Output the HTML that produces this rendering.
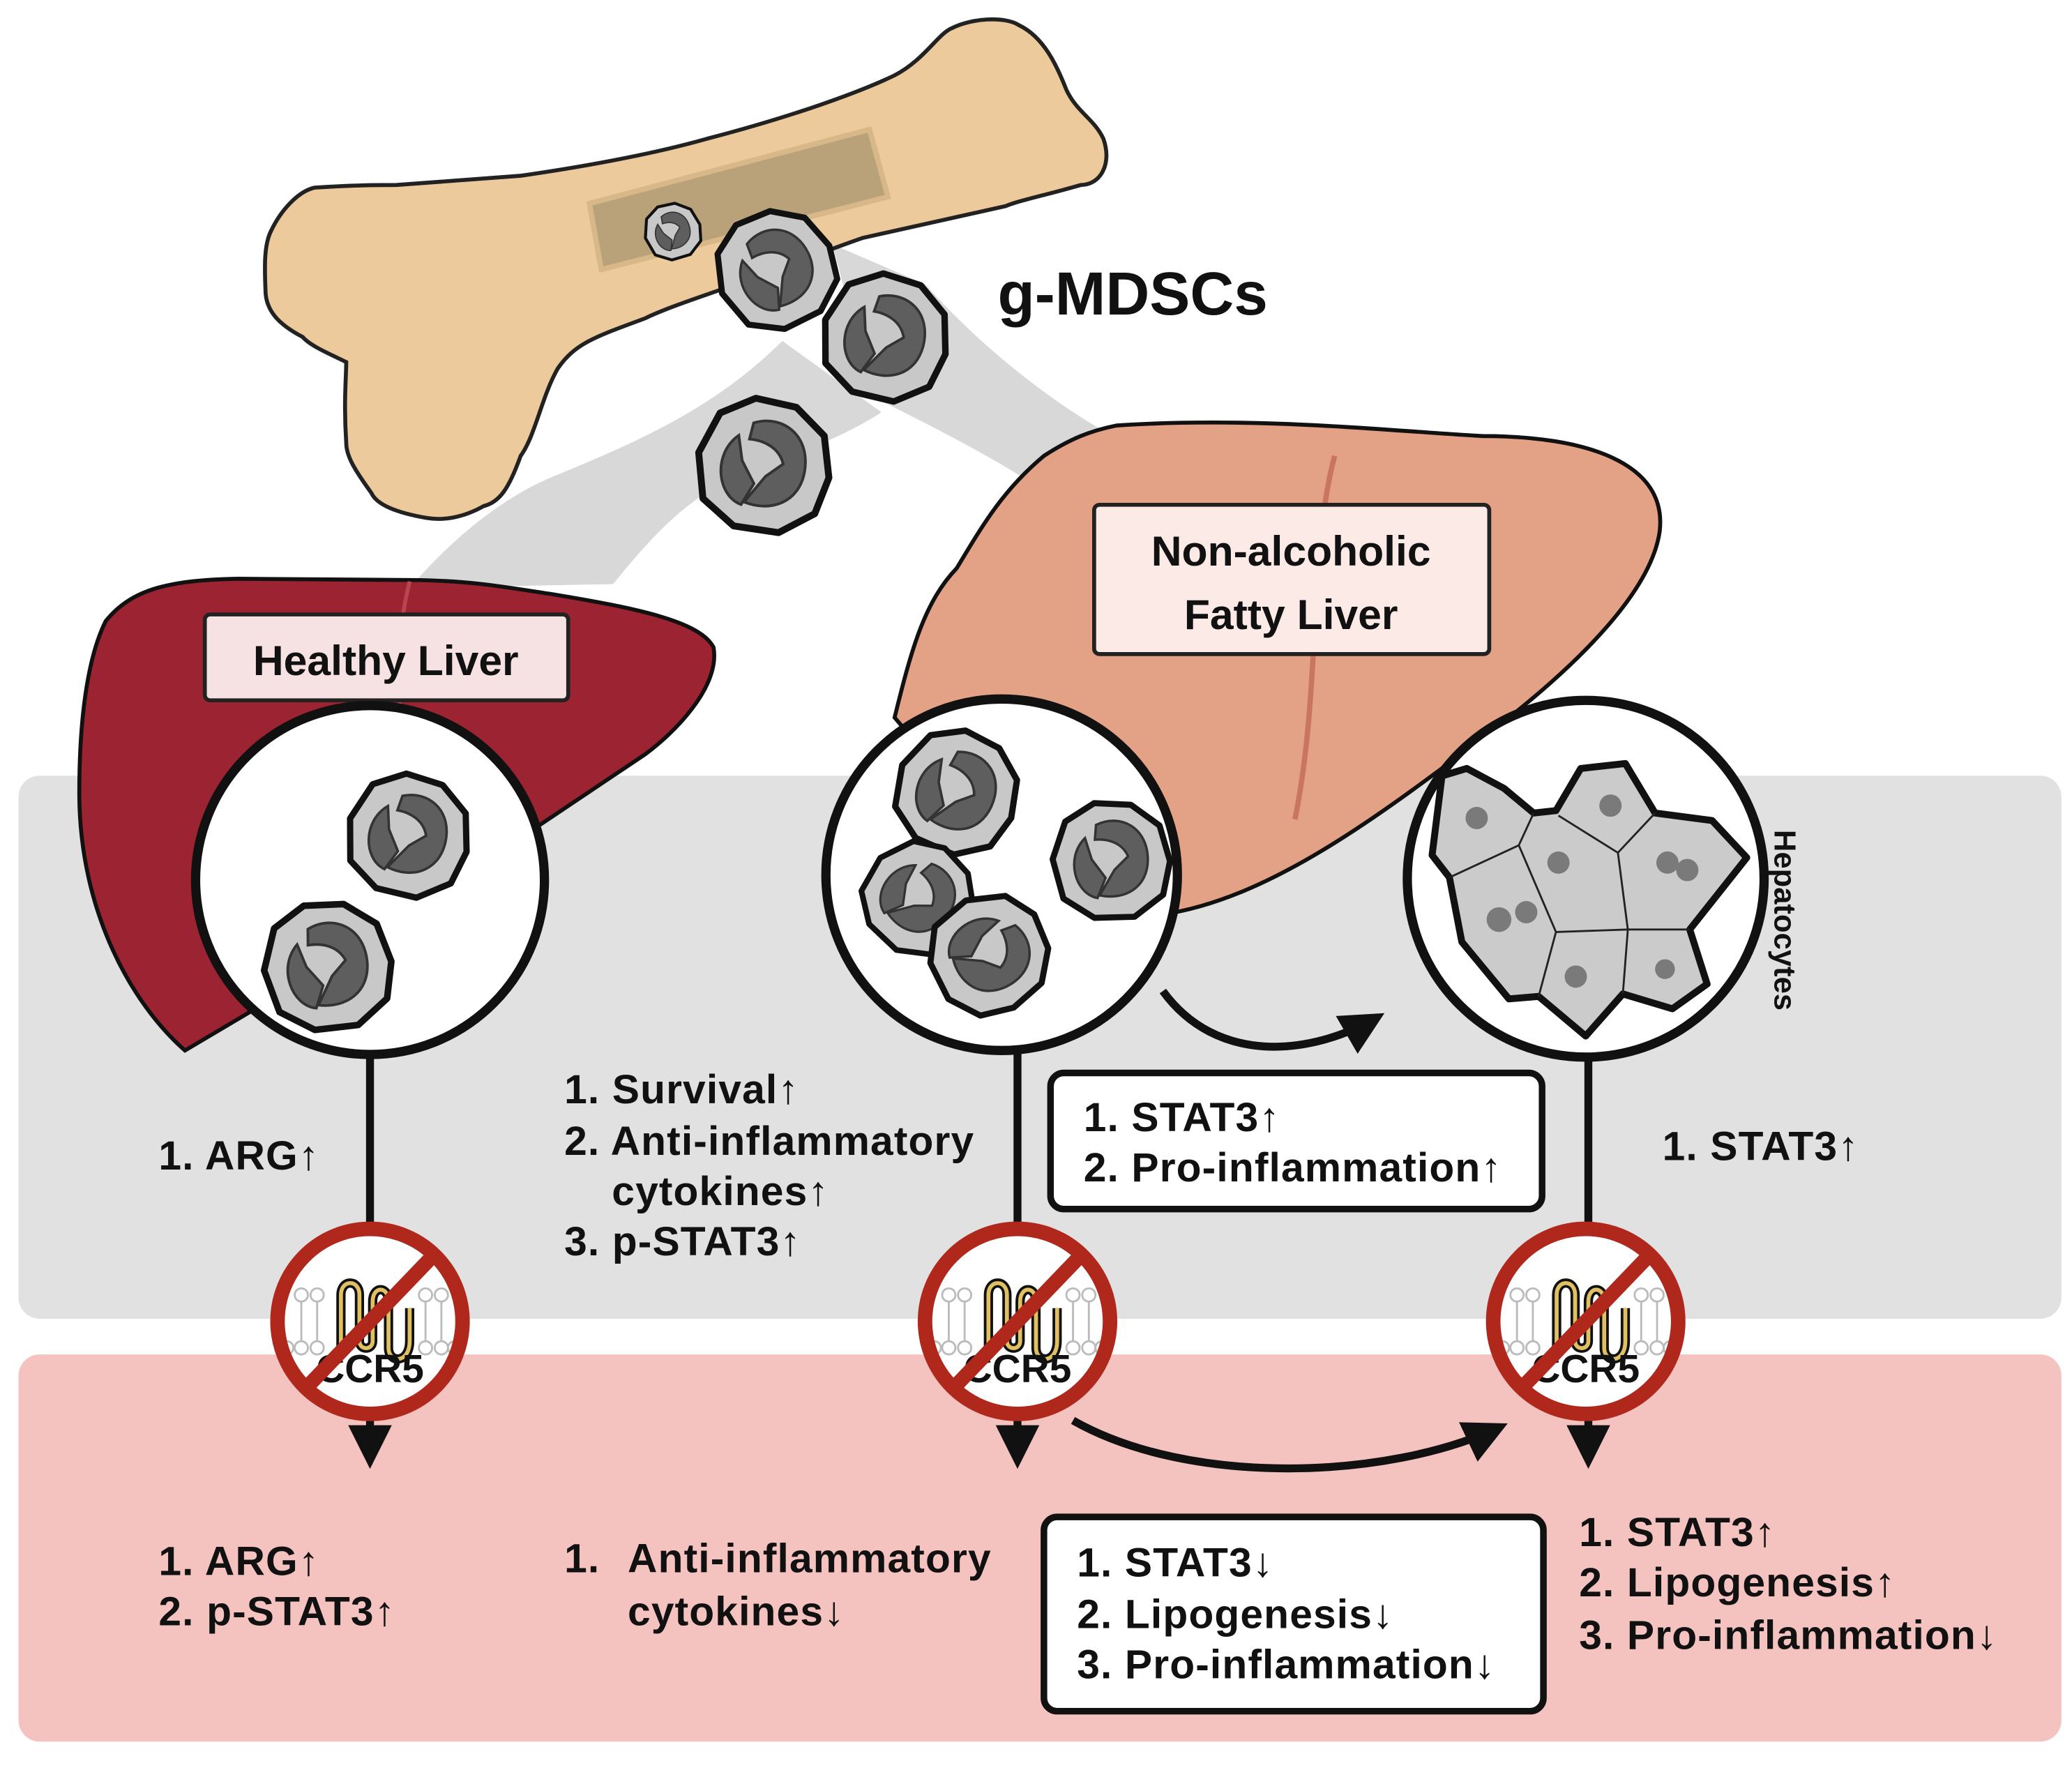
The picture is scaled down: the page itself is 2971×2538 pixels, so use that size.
<!DOCTYPE html>
<html><head><meta charset="utf-8"><style>
html,body{margin:0;padding:0;background:#fff}
svg{display:block}
text{font-family:"Liberation Sans","DejaVu Sans",sans-serif;font-weight:bold;fill:#111}
.t{font-size:31px;letter-spacing:0.6px}
</style></head><body>
<svg width="2971" height="2538" viewBox="0 0 1568 1339.5" xmlns="http://www.w3.org/2000/svg">
<defs>
<g id="cell">
<path d="M-10,-48 L20,-44 L42,-25 L48,5 L40,32 L15,48 L-18,46 L-42,28 L-48,-5 L-35,-35 Z" fill="#c8c8c8" stroke="#111" stroke-width="5" stroke-linejoin="round"/>
<path d="M-10,-30 C10,-38 32,-25 30,2 C28,25 8,34 -12,28 L2,8 L14,-2 C10,-14 -2,-18 -12,-18 Z" fill="#5e5e5e" stroke="#333" stroke-width="2"/>
<path d="M-20,-20 C-38,-5 -32,25 -14,30 L-6,14 L-16,-2 Z" fill="#5e5e5e" stroke="#333" stroke-width="2"/>
</g>
<g id="ccr5">
<circle r="70" fill="#fff"/>
<g fill="none" stroke="#bbb" stroke-width="1.5">
<circle cx="-52" cy="-20" r="5"/><circle cx="-40" cy="-20" r="5"/><circle cx="-52" cy="20" r="5"/><circle cx="-40" cy="20" r="5"/><circle cx="-63" cy="20" r="5"/>
<circle cx="42" cy="-20" r="5"/><circle cx="54" cy="-20" r="5"/><circle cx="42" cy="20" r="5"/><circle cx="54" cy="20" r="5"/><circle cx="64" cy="20" r="5"/>
<path d="M-52,-15 V15 M-40,-15 V15 M42,-15 V15 M54,-15 V15"/>
</g>
<path d="M-22,20 V-20 C-22,-32 -8,-32 -8,-20 V15 C-8,22 2,22 2,15 V-15 C2,-27 14,-27 14,-15 V20 C14,32 30,32 30,15 V-10" fill="none" stroke="#111" stroke-width="7"/>
<path d="M-22,20 V-20 C-22,-32 -8,-32 -8,-20 V15 C-8,22 2,22 2,15 V-15 C2,-27 14,-27 14,-15 V20 C14,32 30,32 30,15 V-10" fill="none" stroke="#e0c060" stroke-width="3"/>
<text x="0" y="46" font-size="30" text-anchor="middle">CCR5</text>
<circle r="70" fill="none" stroke="#b0281c" stroke-width="11"/>
<line x1="48" y1="-50" x2="-48" y2="50" stroke="#b0281c" stroke-width="11"/>
</g>
<marker id="ah" viewBox="0 0 10 10" refX="8" refY="5" markerWidth="5.5" markerHeight="5.5" orient="auto"><path d="M0,0 L10,5 L0,10 Z" fill="#111"/></marker>
</defs>

<!-- bands -->
<rect x="14" y="587" width="1546" height="411" rx="16" fill="#e1e1e1"/>
<rect x="14" y="1025" width="1546" height="293" rx="16" fill="#f4c3c0"/>

<!-- migration shadows -->
<path d="M592,258 L667,312 C640,330 600,345 560,360 C520,375 490,410 464,442 L310,445 C340,410 380,375 425,358 C480,335 540,310 592,258 Z" fill="#d8d8d8"/>
<path d="M630,185 L700,215 C740,260 790,300 835,326 L775,362 C740,340 700,320 660,300 Z" fill="#d8d8d8"/>

<!-- bone -->
<path d="M238,142 C270,140 285,140 300,140 L394,133 C450,125 500,115 535,105 C600,88 650,70 677,57 C700,45 710,25 721,21 C735,14 760,12 771,19 C790,28 800,50 807,68 C815,85 828,90 835,105 C842,125 832,140 818,140 C790,148 770,152 761,156 L653,180 C610,195 580,208 549,218 C520,228 500,235 488,241 C450,255 435,260 422,279 C410,300 405,330 394,345 C385,370 378,380 366,383 C350,392 335,394 323,392 C300,388 285,382 281,373 C268,355 262,345 262,335 C260,305 262,285 262,274 C250,268 235,262 229,255 C210,245 202,235 201,222 C200,200 200,185 205,175 C212,160 225,145 238,142 Z" fill="#ecca9c" stroke="#222" stroke-width="3"/>
<path d="M446,154 L658,98 L672,149 L455,204 Z" fill="#b9a27a" stroke="#d8b888" stroke-width="4"/>

<!-- healthy liver -->
<path d="M80,470 C100,445 130,439 180,438 L318,439 C360,440 380,444 420,450 C480,460 530,470 540,490 C545,520 510,555 488,571 L403,628 L300,700 L140,795 C100,760 60,690 60,600 C60,550 65,500 80,470 Z" fill="#9c2331" stroke="#111" stroke-width="3"/>
<path d="M310,440 C300,480 300,520 305,560" stroke="#b8454f" stroke-width="3" fill="none"/>
<!-- NAFLD liver -->
<path d="M677,543 C690,490 700,455 724,430 C745,395 760,370 790,345 C810,332 825,326 845,322 C950,315 1050,326 1122,330 C1200,330 1262,350 1256,402 C1250,445 1200,500 1120,560 C1040,620 960,680 880,692 L700,570 Z" fill="#e3a185" stroke="#111" stroke-width="3"/>
<path d="M1010,345 C990,420 1000,520 980,620" stroke="#c97560" stroke-width="4" fill="none"/>

<!-- label boxes -->
<rect x="155" y="465" width="275" height="65" rx="4" fill="#f6e2e2" stroke="#222" stroke-width="3"/>
<text x="292" y="511" font-size="32" text-anchor="middle">Healthy Liver</text>
<rect x="828" y="382" width="299" height="113" rx="4" fill="#fbeae6" stroke="#222" stroke-width="3"/>
<text x="977" y="428" font-size="32" text-anchor="middle">Non-alcoholic</text>
<text x="977" y="476" font-size="32" text-anchor="middle">Fatty Liver</text>

<!-- bone cells -->
<use href="#cell" transform="translate(509,175) scale(0.44) rotate(-20)"/>
<use href="#cell" transform="translate(587,204) scale(0.92) rotate(-30)"/>
<use href="#cell" transform="translate(670,255) scale(0.98) rotate(10)"/>
<use href="#cell" transform="translate(578,352) scale(1.04) rotate(5)"/>
<text x="755" y="238" font-size="46">g-MDSCs</text>

<!-- lines -->
<g stroke="#111" stroke-width="6" fill="none">
<line x1="280" y1="790" x2="280" y2="1105" marker-end="url(#ah)"/>
<line x1="770" y1="790" x2="770" y2="1105" marker-end="url(#ah)"/>
<line x1="1202" y1="795" x2="1202" y2="1105" marker-end="url(#ah)"/>
<path d="M880,750 C920,805 990,800 1042,770" marker-end="url(#ah)"/>
<path d="M812,1075 C900,1125 1050,1120 1135,1080" marker-end="url(#ah)"/>
</g>

<!-- circles -->
<circle cx="280" cy="666" r="132" fill="#fff" stroke="#111" stroke-width="7"/>
<use href="#cell" transform="translate(309,632) scale(0.95) rotate(10)"/>
<use href="#cell" transform="translate(248,731) scale(1.0) rotate(-10)"/>

<circle cx="758" cy="662" r="133" fill="#fff" stroke="#111" stroke-width="7"/>
<use href="#cell" transform="translate(724,599) scale(0.95) rotate(20)"/>
<use href="#cell" transform="translate(841,651) scale(0.92) rotate(-5)"/>
<use href="#cell" transform="translate(695,679) scale(0.86) rotate(40)"/>
<use href="#cell" transform="translate(749,722) scale(0.92) rotate(60)"/>

<circle cx="1200" cy="665" r="135" fill="#fff" stroke="#111" stroke-width="7"/>
<g transform="translate(1200,665) scale(0.1875) translate(-730,-745)">
<path d="M150,330 L250,300 L400,380 L520,480 L610,470 L710,300 L890,280 L1010,480 L1240,510 L1380,660 L1150,950 L1220,1170 L1080,1270 L880,1210 L730,1380 L540,1220 L420,1230 L230,1000 L180,740 L110,650 Z" fill="#cbcbcb" stroke="#111" stroke-width="28" stroke-linejoin="round"/>
<g stroke="#222" stroke-width="8" fill="none">
<path d="M460,610 L180,740 M460,610 L520,480 M460,610 L610,960 L900,950 L1150,950 M900,950 L860,640 L620,490 M860,640 L1010,480 M610,960 L540,1220 M900,950 L880,1210"/>
</g>
<g fill="#7a7a7a">
<circle cx="290" cy="500" r="45"/><circle cx="830" cy="450" r="45"/><circle cx="620" cy="680" r="45"/>
<circle cx="1060" cy="680" r="45"/><circle cx="1140" cy="710" r="45"/><circle cx="380" cy="910" r="50"/>
<circle cx="490" cy="880" r="45"/><circle cx="690" cy="1140" r="45"/><circle cx="1050" cy="1110" r="40"/>
</g>
</g>
<text transform="translate(1343,628) rotate(90)" font-size="23">Hepatocytes</text>

<!-- CCR5 -->
<use href="#ccr5" transform="translate(280,1000)"/>
<use href="#ccr5" transform="translate(770,1000)"/>
<use href="#ccr5" transform="translate(1200,1000)"/>

<!-- texts gray band -->
<text class="t" x="120" y="885">1. ARG↑</text>
<text class="t" x="427" y="835">1. Survival↑</text>
<text class="t" x="427" y="874">2. Anti-inflammatory</text>
<text class="t" x="463" y="912">cytokines↑</text>
<text class="t" x="427" y="950">3. p-STAT3↑</text>
<rect x="795" y="812" width="372" height="103" rx="10" fill="#fff" stroke="#111" stroke-width="5"/>
<text class="t" x="820" y="856">1. STAT3↑</text>
<text class="t" x="820" y="894">2. Pro-inflammation↑</text>
<text class="t" x="1258" y="878">1. STAT3↑</text>

<!-- texts pink band -->
<text class="t" x="120" y="1192">1. ARG↑</text>
<text class="t" x="120" y="1230">2. p-STAT3↑</text>
<text class="t" x="427" y="1190">1.</text>
<text class="t" x="475" y="1190">Anti-inflammatory</text>
<text class="t" x="475" y="1230">cytokines↓</text>
<rect x="790" y="1148" width="378" height="147" rx="10" fill="#fff" stroke="#111" stroke-width="5"/>
<text class="t" x="815" y="1193">1. STAT3↓</text>
<text class="t" x="815" y="1232">2. Lipogenesis↓</text>
<text class="t" x="815" y="1270">3. Pro-inflammation↓</text>
<text class="t" x="1195" y="1170">1. STAT3↑</text>
<text class="t" x="1195" y="1208">2. Lipogenesis↑</text>
<text class="t" x="1195" y="1248">3. Pro-inflammation↓</text>
</svg>
</body></html>
